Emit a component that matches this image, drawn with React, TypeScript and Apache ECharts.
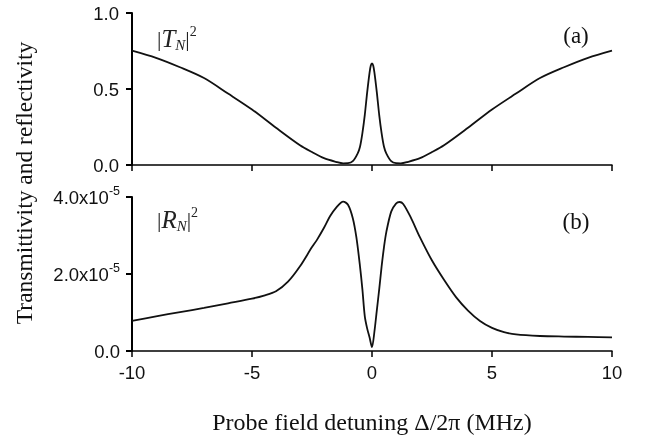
import React, { useEffect, useRef } from "react";
import * as echarts from "echarts";

// Detuning Δ/2π (MHz)
const tX = [-10, -9, -8, -7, -6, -5, -4, -3, -2.5, -2, -1.5, -1.2, -1.0, -0.8, -0.6, -0.5, -0.4, -0.3, -0.2, -0.1, -0.05, 0,
  0.05, 0.1, 0.2, 0.3, 0.4, 0.5, 0.6, 0.8, 1.0, 1.2, 1.5, 2, 2.5, 3, 4, 5, 6, 7, 8, 9, 10];
// |T_N|^2
const tY = [0.752, 0.705, 0.643, 0.572, 0.47, 0.365, 0.245, 0.13, 0.085, 0.045, 0.021, 0.011, 0.012, 0.025, 0.075, 0.12, 0.21, 0.33, 0.48, 0.61, 0.655, 0.668,
  0.655, 0.61, 0.48, 0.33, 0.21, 0.12, 0.075, 0.025, 0.012, 0.011, 0.021, 0.045, 0.085, 0.13, 0.245, 0.365, 0.47, 0.572, 0.643, 0.705, 0.752];

const rX = [-10, -9, -8, -7, -6, -5, -4.5, -4, -3.5, -3, -2.5, -2.3, -2, -1.75, -1.5, -1.2, -1.0, -0.8, -0.65, -0.5, -0.4, -0.3, -0.2, -0.1, 0,
  0.1, 0.2, 0.3, 0.4, 0.5, 0.6, 0.8, 1.0, 1.15, 1.3, 1.6, 2.0, 2.5, 3.0, 3.5, 4.0, 4.5, 5.0, 5.5, 6.0, 7.0, 8.0, 9.0, 10];
// |R_N|^2
const rY = [0.78e-5, 0.9e-5, 1.01e-5, 1.12e-5, 1.24e-5, 1.36e-5, 1.44e-5, 1.55e-5, 1.8e-5, 2.2e-5, 2.7e-5, 2.88e-5, 3.2e-5, 3.5e-5, 3.72e-5, 3.88e-5, 3.8e-5, 3.45e-5, 2.95e-5, 2.2e-5, 1.6e-5, 0.9e-5, 0.58e-5, 0.35e-5, 0.1e-5,
  0.5e-5, 1.05e-5, 1.6e-5, 2.19e-5, 2.7e-5, 3.1e-5, 3.62e-5, 3.83e-5, 3.87e-5, 3.82e-5, 3.49e-5, 2.95e-5, 2.35e-5, 1.85e-5, 1.4e-5, 1.05e-5, 0.78e-5, 0.6e-5, 0.49e-5, 0.43e-5, 0.39e-5, 0.375e-5, 0.365e-5, 0.355e-5];

const xTicks = { min: -10, max: 10, interval: 5 };
const topTicks = { min: 0, max: 1, interval: 0.5 };
const botTicks = { min: 0, max: 4e-5, interval: 2e-5 };

const SANS = "Liberation Sans";
const SERIF = "Liberation Serif";

const mkLine = () => ({ show: true, onZero: false, lineStyle: { color: "#000", width: 1.5 } });
const mkTick = () => ({ show: true, inside: false, length: 6, lineStyle: { color: "#000", width: 1.5 } });

export default function App() {
  const ref = useRef<HTMLDivElement>(null);
  useEffect(() => {
    document.body.style.margin = "0";
    const chart = echarts.init(ref.current!, undefined, { renderer: "svg" });
    const label = () => ({ color: "#111", fontFamily: SANS, fontSize: 18.5 });
    const labelRich = () => ({
      p: { fontFamily: SERIF, fontSize: 22, fill: "#222", lineHeight: 28 },
      t: { fontFamily: SERIF, fontSize: 25, fontStyle: "italic", fill: "#222", lineHeight: 28 },
      n: { fontFamily: SERIF, fontSize: 15, fontStyle: "italic", fill: "#222", verticalAlign: "bottom", lineHeight: 15 },
      s: { fontFamily: SERIF, fontSize: 14, fill: "#222", verticalAlign: "top", lineHeight: 14 },
    });
    chart.setOption({
      animation: false,
      grid: [
        { left: 132, top: 13, width: 480, height: 152 },
        { left: 132, top: 197, width: 480, height: 154 },
      ],
      xAxis: [
        {
          type: "value", gridIndex: 0, ...xTicks,
          axisLine: mkLine(), axisTick: mkTick(), axisLabel: { show: false }, splitLine: { show: false },
        },
        {
          type: "value", gridIndex: 1, ...xTicks,
          axisLine: mkLine(), axisTick: mkTick(), splitLine: { show: false },
          axisLabel: { ...label(), margin: 12 },
          name: "Probe field detuning Δ/2π (MHz)",
          nameLocation: "middle",
          nameGap: 59,
          nameTextStyle: { fontFamily: SERIF, fontSize: 24, color: "#111" },
        },
      ],
      yAxis: [
        {
          type: "value", gridIndex: 0, position: "left", ...topTicks,
          axisLine: { show: true, onZero: false, lineStyle: { color: "#000", width: 2 } },
          axisTick: { show: true, inside: false, length: 6, lineStyle: { color: "#000", width: 2 } },
          splitLine: { show: false },
          axisLabel: { ...label(), margin: 13, formatter: (v: number) => v.toFixed(1) },
        },
        {
          type: "value", gridIndex: 1, position: "left", ...botTicks,
          axisLine: { show: true, onZero: false, lineStyle: { color: "#000", width: 2 } },
          axisTick: { show: true, inside: false, length: 6, lineStyle: { color: "#000", width: 2 } },
          splitLine: { show: false },
          axisLabel: {
            ...label(), margin: 12,
            formatter: (v: number) => (v === 0 ? "{a|0.0}" : `{a|${(v / 1e-5).toFixed(1)}x10}{s|-5}`),
            rich: {
              a: { fontFamily: SANS, fontSize: 18.5, color: "#111", lineHeight: 26 },
              s: { fontFamily: SANS, fontSize: 12.5, color: "#111", verticalAlign: "top", lineHeight: 14 },
            },
          },
        },
      ],
      series: [
        {
          type: "line", xAxisIndex: 0, yAxisIndex: 0, showSymbol: false, smooth: 0.3,
          lineStyle: { color: "#111", width: 1.8 },
          data: tX.map((x, i) => [x, tY[i]]),
        },
        {
          type: "line", xAxisIndex: 1, yAxisIndex: 1, showSymbol: false, smooth: 0.3,
          lineStyle: { color: "#111", width: 1.8 },
          data: rX.map((x, i) => [x, rY[i]]),
        },
      ],
      graphic: [
        {
          type: "text", x: 24, y: 183, rotation: Math.PI / 2,
          style: {
            text: "Transmittivity and reflectivity", fontFamily: SERIF, fontSize: 23.5,
            fill: "#111", align: "center", verticalAlign: "middle",
          },
        },
        {
          type: "text", x: 157, y: 24,
          style: { text: "{p||}{t|T}{n|N}{p||}{s|2}", rich: labelRich() },
        },
        {
          type: "text", x: 157, y: 205,
          style: { text: "{p||}{t|R}{n|N}{p||}{s|2}", rich: labelRich() },
        },
        {
          type: "text", x: 576, y: 35,
          style: { text: "(a)", fontFamily: SERIF, fontSize: 23, fill: "#111", align: "center", verticalAlign: "middle" },
        },
        {
          type: "text", x: 576, y: 221,
          style: { text: "(b)", fontFamily: SERIF, fontSize: 23, fill: "#111", align: "center", verticalAlign: "middle" },
        },
      ],
    });
    return () => chart.dispose();
  }, []);
  return <div ref={ref} style={{ position: "fixed", left: 0, top: 0, width: 657, height: 443 }} />;
}
